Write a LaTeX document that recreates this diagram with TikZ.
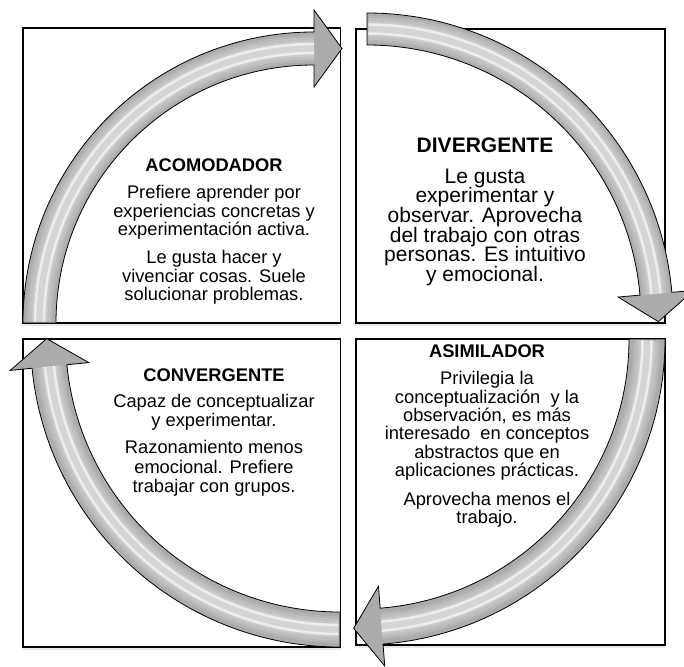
\documentclass[tikz,border=0pt]{standalone}
\usepackage{fontspec}
\setmainfont{Liberation Sans}
\usetikzlibrary{calc,positioning,shadows}
\newcommand{\tightlines}{\lineskiplimit=-20pt\relax}
% one curved arrow of the cycle: centre, outer r, inner r, from, to
\newcommand{\arrowpath}[5]{($(#1)+(#4:#2)$) arc[start angle=#4, end angle=#5, radius=#2]
  -- ($(#1)+(#5:{#2+22})$) -- ($(#1)+(#5:{(#2+#3)/2})+({#5+90}:28)$)
  -- ($(#1)+(#5:{#3-22})$) -- ($(#1)+(#5:#3)$)
  arc[start angle=#5, end angle=#4, radius=#3] -- cycle}
% shading strip along the shaft: centre, radius, from, to, width, colour
\newcommand{\stripearc}[6]{%
  \draw[stripe, line width=#5pt, #6] ($(#1)+({#3+0.3}:#2)$)
    arc[start angle={#3+0.3}, end angle=#4, radius=#2];}
\newcommand{\cyclearrow}[5]{%
  \fill[band] \arrowpath{#1}{#2}{#3}{#4}{#5};
  \stripearc{#1}{{(#2+#3)/2}}{#4}{#5}{27}{gray!58}
  \stripearc{#1}{{(#2+#3)/2}}{#4}{#5}{22}{gray!50}
  \stripearc{#1}{{(#2+#3)/2}}{#4}{#5}{16}{gray!42}
  \stripearc{#1}{{(#2+#3)/2}}{#4}{#5}{11}{gray!34}
  \stripearc{#1}{{(#2+#3)/2-4.5}}{#4}{#5}{2.6}{white!85!gray}
  \stripearc{#1}{{(#2+#3)/2+4.5}}{#4}{#5}{2.6}{white!85!gray}
  \draw[bandline] \arrowpath{#1}{#2}{#3}{#4}{#5};}

\begin{document}
\begin{tikzpicture}[x=1pt, y=-1pt,
  quad/.style={draw=black, line width=1.1pt, fill=white,
    drop shadow={shadow xshift=0pt, shadow yshift=-3pt, opacity=0.18}},
  band/.style={fill=gray!66},
  bandline/.style={draw=black, line width=0.8pt, line join=miter},
  stripe/.style={line cap=butt},
  heading/.style={font=\fontsize{18.3}{18.5}\selectfont\bfseries, inner sep=0pt, anchor=base},
  body/.style={font=\fontsize{18.3}{18.5}\selectfont\tightlines, align=center, inner sep=0pt},
  bigheading/.style={heading, font=\fontsize{21}{19.7}\selectfont\bfseries},
  bigbody/.style={body, font=\fontsize{21}{19.7}\selectfont\tightlines},
]
\useasboundingbox (0,0) rectangle (684,666);

% Quadrants
\draw[quad] (23,28) rectangle (340.5,323);
\draw[quad] (356,29) rectangle (665,323);
\draw[quad] (23,339) rectangle (340.5,647);
\draw[quad] (356,339) rectangle (665,645);

% Cycle arrows
\coordinate (acomc) at (314,323);
\coordinate (divc)  at (367,319);
\coordinate (asimc) at (359,339);
\coordinate (convc) at (340,337.5);
\cyclearrow{acomc}{291}{258}{180}{270}
\cyclearrow{divc}{306}{274}{270}{355}
\cyclearrow{asimc}{306}{270}{0}{85.5}
\cyclearrow{convc}{309.5}{274.5}{90}{174.3}

% Styles of learning
\node[heading] (acom) at (214,171) {ACOMODADOR};
\node[body, below=13.8pt of acom] (acomtext) {Prefiere aprender por\\
  experiencias concretas y\\ experimentación activa.\\[9.5pt]
  Le gusta hacer y\\ vivenciar cosas. Suele\\ solucionar problemas.};

\node[bigheading] (div) at (485,152) {DIVERGENTE};
\node[bigbody, below=16pt of div] (divtext) {Le gusta\\ experimentar y\\
  observar. Aprovecha\\ del trabajo con otras\\ personas. Es intuitivo\\
  y emocional.};

\node[heading] (conv) at (214,381) {CONVERGENTE};
\node[body, font=\fontsize{18.3}{19.3}\selectfont\tightlines,
  below=12.8pt of conv] (convtext) {Capaz de conceptualizar\\
  y experimentar.\\[7.5pt] Razonamiento menos\\ emocional. Prefiere\\
  trabajar con grupos.};

\node[heading] (asim) at (487,357) {ASIMILADOR};
\node[body, font=\fontsize{18.3}{18.4}\selectfont\tightlines,
  below=13.8pt of asim] (asimtext) {Privilegia la\\
  conceptualización~ y la\\ observación, es más\\ interesado~ en conceptos\\
  abstractos que en\\ aplicaciones prácticas.\\[10.5pt]
  Aprovecha menos el\\ trabajo.};
\end{tikzpicture}
\end{document}
